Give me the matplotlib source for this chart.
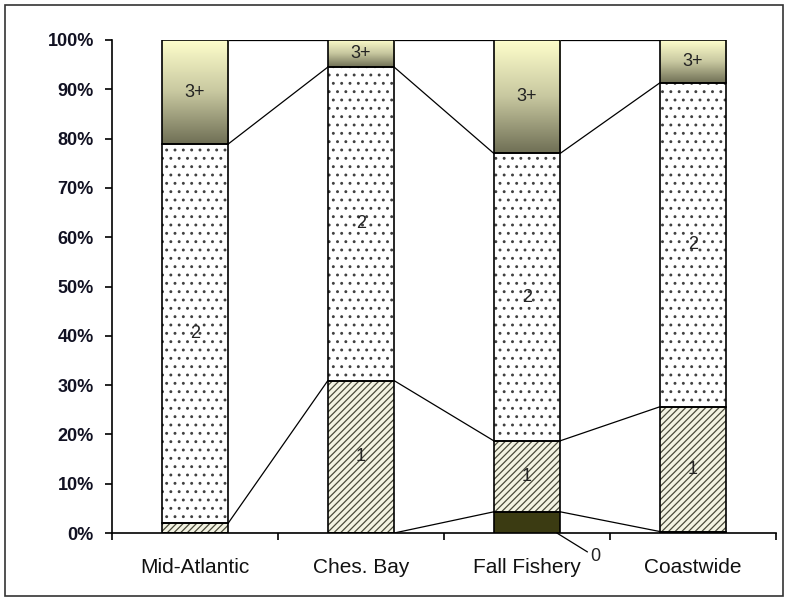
import numpy as np
import matplotlib.pyplot as plt
from matplotlib.patches import Rectangle
from matplotlib.colors import LinearSegmentedColormap

# Age composition (%) by region
regions = ["Mid-Atlantic", "Ches. Bay", "Fall Fishery", "Coastwide"]
age0 = [0.0, 0.0, 4.3, 0.3]
age1 = [2.0, 30.9, 14.4, 25.3]
age2 = [76.9, 63.6, 58.3, 65.7]
age3plus = [21.1, 5.5, 23.0, 8.7]
series_names = ["0", "1", "2", "3+"]

plt.rcParams["font.family"] = ["Liberation Sans", "DejaVu Sans"]
plt.rcParams["hatch.linewidth"] = 0.9

fig = plt.figure(figsize=(7.85, 6.01), dpi=100)
ax = fig.add_axes([112 / 785, 68 / 601, 664 / 785, 493 / 601])

x = np.arange(len(regions)) + 0.5
w = 0.4
series = [np.array(age0), np.array(age1), np.array(age2), np.array(age3plus)]
bottoms = np.vstack([np.zeros(len(regions)), np.cumsum(series, axis=0)[:-1]])
tops = np.cumsum(series, axis=0)

# age 0 - solid dark olive
ax.bar(x, series[0], w, color="#3b3b12", edgecolor="black", lw=1.2, zorder=3)

# age 1 - diagonal hatch
ax.bar(x, series[1], w, bottom=bottoms[1], color="#f3f3e2", hatch="/////",
       edgecolor="#4a4a3a", lw=0, zorder=2)
ax.bar(x, series[1], w, bottom=bottoms[1], fill=False, edgecolor="black",
       lw=1.2, zorder=3)

# age 2 - dotted
ax.bar(x, series[2], w, bottom=bottoms[2], color="white", hatch="..",
       edgecolor="#404040", lw=0, zorder=2)
ax.bar(x, series[2], w, bottom=bottoms[2], fill=False, edgecolor="black",
       lw=1.2, zorder=3)

# age 3+ - vertical gradient fill
grad_cmap = LinearSegmentedColormap.from_list("olive", ["#6f6f55", "#c8c8a0", "#ffffcc"])
grad = np.linspace(0, 1, 256).reshape(-1, 1)
for xi, b, h in zip(x, bottoms[3], series[3]):
    ax.imshow(grad, extent=(xi - w / 2, xi + w / 2, b, b + h), origin="lower",
              aspect="auto", cmap=grad_cmap, zorder=2)
ax.bar(x, series[3], w, bottom=bottoms[3], fill=False, edgecolor="black",
       lw=1.2, zorder=3)

# series lines joining the segment tops of neighbouring columns
for lvl in tops:
    for i in range(len(regions) - 1):
        ax.plot([x[i] + w / 2, x[i + 1] - w / 2], [lvl[i], lvl[i + 1]],
                color="black", lw=0.9, zorder=1)

# segment labels
for s in range(1, 4):
    for xi, b, h in zip(x, bottoms[s], series[s]):
        if h >= 3:
            ax.text(xi, b + h / 2, series_names[s], ha="center", va="center",
                    fontsize=13, color="#222222", zorder=4)
for xi, h in zip(x, series[0]):
    if h >= 1:
        ax.annotate(series_names[0], xy=(xi + w / 2 - 0.02, 0), xytext=(24, -11),
                    textcoords="offset points", fontsize=13, color="#222222",
                    ha="left", va="top",
                    arrowprops=dict(arrowstyle="-", color="black", lw=0.9,
                                    shrinkA=0, shrinkB=0))

ax.set_xlim(0, len(regions))
ax.set_ylim(0, 100)
ax.spines["top"].set_visible(False)
ax.spines["right"].set_visible(False)
for sp in ("left", "bottom"):
    ax.spines[sp].set_linewidth(1.2)

ax.set_yticks(np.arange(0, 101, 10))
ax.set_yticklabels([f"{v}%" for v in range(0, 101, 10)], fontsize=13,
                   fontweight="bold", color="#111122")
ax.tick_params(axis="y", direction="out", length=5, width=1.2, pad=8)

ax.set_xticks(np.arange(len(regions) + 1))
ax.set_xticklabels([])
ax.set_xticks(x, minor=True)
ax.set_xticklabels(regions, minor=True, fontsize=15, color="#111111")
ax.tick_params(axis="x", which="major", direction="out", length=5, width=1.2)
ax.tick_params(axis="x", which="minor", length=0, pad=18)

# chart border
fig.add_artist(Rectangle((5 / 785, 5 / 601), 778 / 785, 591 / 601,
                         transform=fig.transFigure, fill=False,
                         edgecolor="#333333", lw=1.2))

fig.savefig("out.png", dpi=100)
